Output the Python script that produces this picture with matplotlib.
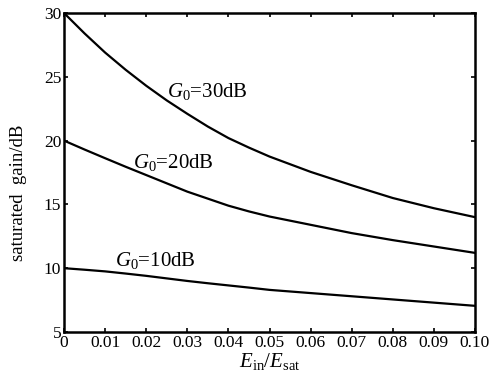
import numpy as np
import matplotlib
matplotlib.use('Agg')
import matplotlib.pyplot as plt

# valeurs
ratio = [0.0, 0.005, 0.01, 0.015, 0.02, 0.025, 0.03, 0.035, 0.04, 0.045, 0.05,
         0.06, 0.07, 0.08, 0.09, 0.10]
gain_30 = [30.0, 28.4, 26.9, 25.55, 24.3, 23.15, 22.1, 21.1, 20.2, 19.45, 18.75,
           17.55, 16.5, 15.5, 14.7, 14.0]
gain_20 = [20.0, 19.3, 18.62, 17.95, 17.3, 16.65, 16.0, 15.45, 14.9, 14.45, 14.05,
           13.4, 12.75, 12.2, 11.7, 11.2]
gain_10 = [10.0, 9.88, 9.75, 9.58, 9.4, 9.2, 9.0, 8.82, 8.65, 8.48, 8.3,
           8.05, 7.8, 7.55, 7.3, 7.05]

xticks = [0, 0.01, 0.02, 0.03, 0.04, 0.05, 0.06, 0.07, 0.08, 0.09, 0.10]
xticklabels = ['0', '0.01', '0.02', '0.03', '0.04', '0.05', '0.06', '0.07', '0.08', '0.09', '0.10']
yticks = [5, 10, 15, 20, 25, 30]

plt.rcParams['font.family'] = ['Liberation Serif', 'DejaVu Serif']
plt.rcParams['mathtext.fontset'] = 'custom'
plt.rcParams['mathtext.rm'] = 'Liberation Serif'
plt.rcParams['mathtext.it'] = 'Liberation Serif:italic'

fig = plt.figure(figsize=(4.99, 3.83), dpi=100)
ax = fig.add_axes([0.1283, 0.1332, 0.8236, 0.8328])

for g in (gain_30, gain_20, gain_10):
    ax.plot(ratio, g, color='black', linewidth=1.6, solid_joinstyle='round')

ax.set_xlim(0, 0.10)
ax.set_ylim(5, 30)
ax.set_xticks(xticks)
ax.set_xticklabels(xticklabels)
ax.set_yticks(yticks)
ax.tick_params(direction='in', length=3, width=1.2, top=True, right=True,
               labelsize=12.5, pad=2)
for s in ax.spines.values():
    s.set_linewidth(1.8)

ax.text(0.025, 23.4, r'$G_0$=30dB', fontsize=15)
ax.text(0.0168, 17.85, r'$G_0$=20dB', fontsize=15)
ax.text(0.0124, 10.2, r'$G_0$=10dB', fontsize=15)

ax.set_xlabel(r'$E_{\rm in}/E_{\rm sat}$', fontsize=15, labelpad=0)
ax.set_ylabel('saturated  gain/dB', fontsize=13.5)
ax.yaxis.set_label_coords(-0.09, 0.436)

fig.savefig('out.png', dpi=100)
